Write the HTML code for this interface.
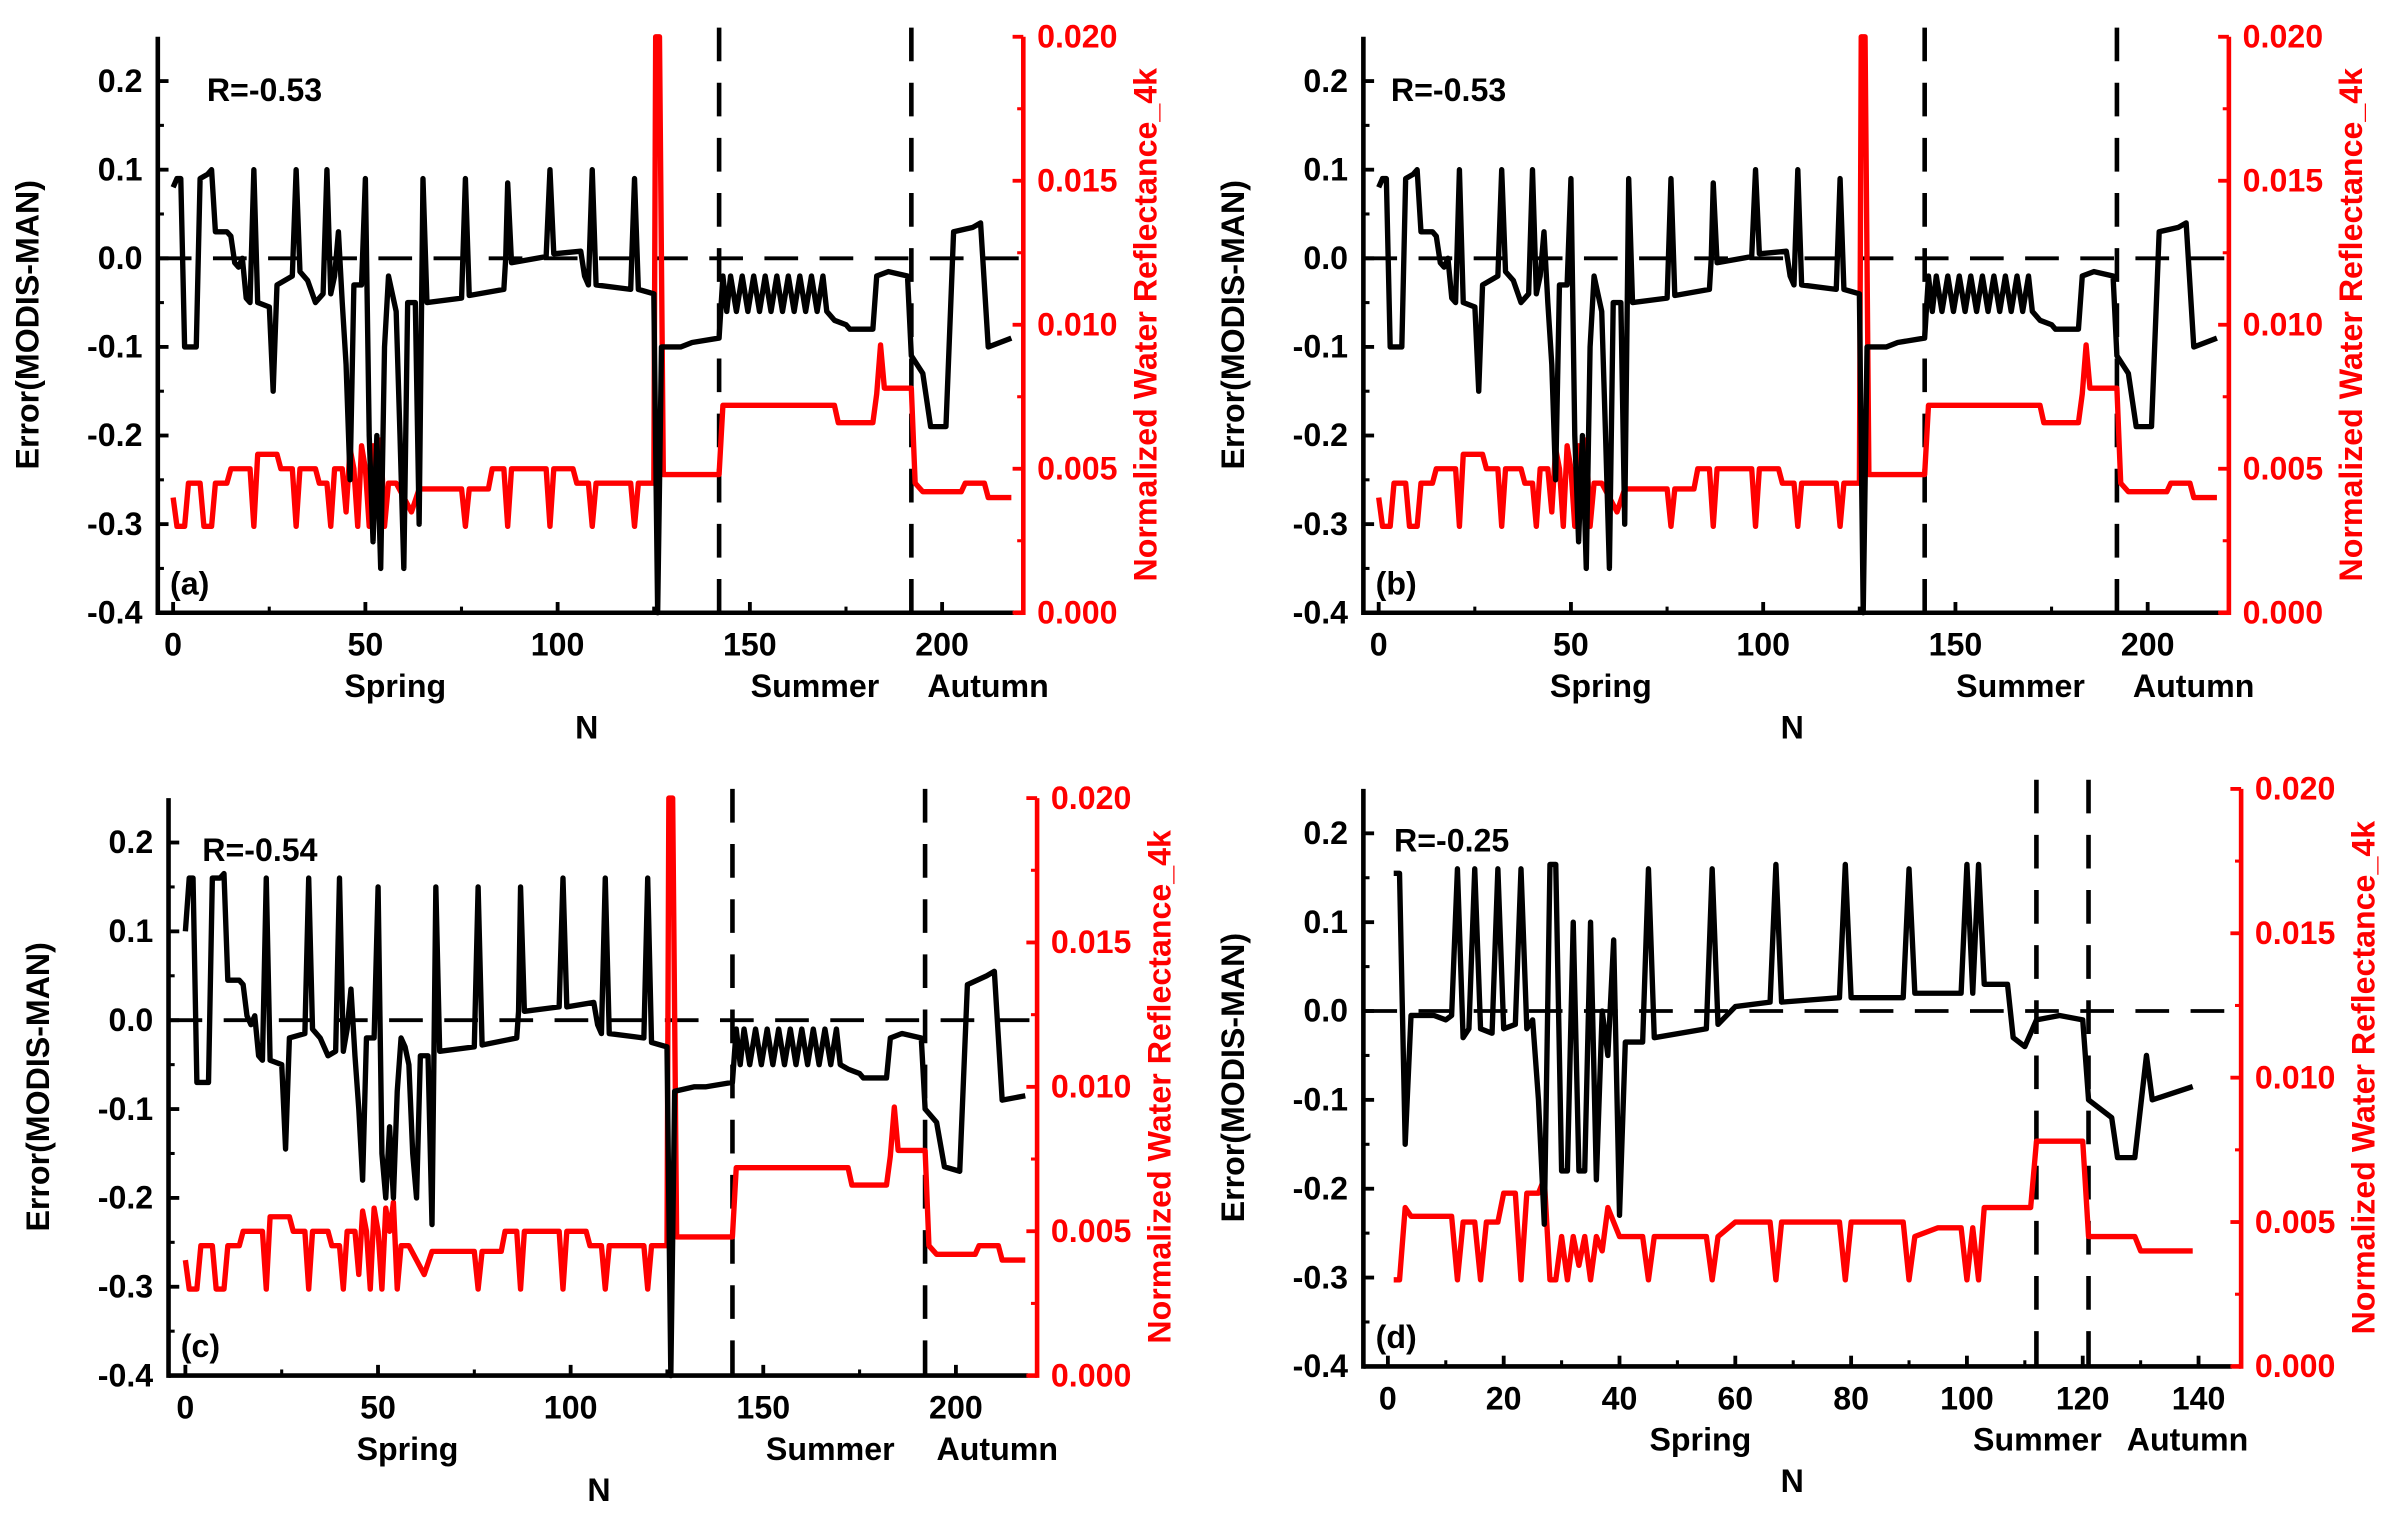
<!DOCTYPE html>
<html><head><meta charset="utf-8"><style>
html,body{margin:0;padding:0;background:#fff;}
svg{display:block;}
text{font-family:"Liberation Sans",sans-serif;font-weight:bold;}
</style></head><body>
<svg id="chart" width="2402" height="1515" viewBox="0 0 1568 989" xmlns="http://www.w3.org/2000/svg"></svg>
<script>
// ---------- data ----------
const errA = [[0,0.08],[1,0.09],[2,0.09],[3,-0.1],[6,-0.1],[7,0.09],[9,0.095],[10,0.1],[11,0.03],[14,0.03],[15,0.025],[16,-0.005],[17,-0.01],[18,0],[19,-0.045],[20,-0.05],[21,0.1],[22,-0.05],[25,-0.055],[26,-0.15],[27,-0.03],[31,-0.02],[32,0.1],[33,-0.015],[35,-0.025],[37,-0.05],[39,-0.04],[40,0.1],[41,-0.04],[42,-0.02],[43,0.03],[44,-0.05],[45,-0.12],[46,-0.25],[47,-0.03],[49,-0.03],[50,0.09],[51,-0.2],[52,-0.32],[53,-0.2],[54,-0.35],[55,-0.1],[56,-0.02],[57,-0.04],[58,-0.06],[59,-0.2],[60,-0.35],[61,-0.05],[63,-0.05],[64,-0.3],[65,0.09],[66,-0.05],[75,-0.045],[76,0.09],[77,-0.042],[86,-0.035],[86.5,0],[87,0.085],[88,-0.005],[97,0.002],[98,0.1],[99,0.005],[106,0.008],[107,-0.02],[108,-0.03],[109,0.1],[110,-0.03],[119,-0.035],[120,0.09],[121,-0.035],[125,-0.04],[126,-0.4],[127,-0.1],[132,-0.1],[135,-0.095],[142,-0.09],[143,-0.02],[144,-0.06],[145,-0.02],[146.5,-0.06],[148,-0.02],[149.5,-0.06],[151,-0.02],[152.5,-0.06],[154,-0.02],[155.5,-0.06],[157,-0.02],[158.5,-0.06],[160,-0.02],[161.5,-0.06],[163,-0.02],[164.5,-0.06],[166,-0.02],[167.5,-0.06],[169,-0.02],[170,-0.06],[172,-0.07],[175,-0.075],[176,-0.08],[182,-0.08],[183,-0.02],[186,-0.015],[191,-0.02],[192,-0.11],[195,-0.13],[197,-0.19],[201,-0.19],[203,0.03],[208,0.035],[210,0.04],[212,-0.1],[218,-0.09]];
const refA = [[0,0.004],[1,0.003],[3,0.003],[4,0.0045],[7,0.0045],[8,0.003],[10,0.003],[11,0.0045],[14,0.0045],[15,0.005],[20,0.005],[21,0.003],[22,0.0055],[27,0.0055],[28,0.005],[31,0.005],[32,0.003],[33,0.005],[37,0.005],[38,0.0045],[40,0.0045],[41,0.003],[42,0.005],[44,0.005],[45,0.0035],[46,0.0057],[47,0.005],[48,0.003],[49,0.0058],[50,0.005],[51,0.003],[52,0.0058],[53,0.005],[54,0.006],[55,0.003],[56,0.0045],[58,0.0045],[60,0.004],[62,0.0035],[64,0.0043],[75,0.0043],[76,0.003],[77,0.0043],[82,0.0043],[83,0.005],[86,0.005],[87,0.003],[88,0.005],[97,0.005],[98,0.003],[99,0.005],[104,0.005],[105,0.0045],[108,0.0045],[109,0.003],[110,0.0045],[119,0.0045],[120,0.003],[121,0.0045],[125,0.0045],[125.5,0.02],[126.5,0.02],[127.5,0.0048],[142,0.0048],[143,0.0072],[172,0.0072],[173,0.0066],[182,0.0066],[183,0.0076],[184,0.0093],[185,0.0078],[192,0.0078],[193,0.0045],[195,0.0042],[205,0.0042],[206,0.0045],[211,0.0045],[212,0.004],[218,0.004]];
const errC = [[0,0.1],[1,0.16],[2,0.16],[3,-0.07],[6,-0.07],[7,0.16],[9,0.16],[10,0.165],[11,0.045],[14,0.045],[15,0.04],[16,0.005],[17,-0.005],[18,0.005],[19,-0.04],[20,-0.045],[21,0.16],[22,-0.045],[25,-0.05],[26,-0.145],[27,-0.02],[31,-0.015],[32,0.16],[33,-0.01],[35,-0.02],[37,-0.04],[39,-0.035],[40,0.16],[41,-0.035],[42,-0.01],[43,0.035],[44,-0.04],[45,-0.1],[46,-0.18],[47,-0.02],[49,-0.02],[50,0.15],[51,-0.15],[52,-0.2],[53,-0.12],[54,-0.2],[55,-0.08],[56,-0.02],[57,-0.03],[58,-0.05],[59,-0.15],[60,-0.2],[61,-0.04],[63,-0.04],[64,-0.23],[65,0.15],[66,-0.035],[75,-0.03],[76,0.15],[77,-0.028],[86,-0.02],[86.5,0.01],[87,0.15],[88,0.01],[97,0.015],[98,0.16],[99,0.015],[106,0.02],[107,-0.005],[108,-0.015],[109,0.16],[110,-0.015],[119,-0.02],[120,0.16],[121,-0.025],[125,-0.03],[126,-0.4],[127,-0.08],[132,-0.075],[135,-0.075],[142,-0.07],[143,-0.01],[144,-0.05],[145,-0.01],[146.5,-0.05],[148,-0.01],[149.5,-0.05],[151,-0.01],[152.5,-0.05],[154,-0.01],[155.5,-0.05],[157,-0.01],[158.5,-0.05],[160,-0.01],[161.5,-0.05],[163,-0.01],[164.5,-0.05],[166,-0.01],[167.5,-0.05],[169,-0.01],[170,-0.05],[172,-0.055],[175,-0.06],[176,-0.065],[182,-0.065],[183,-0.02],[186,-0.015],[191,-0.02],[192,-0.1],[195,-0.115],[197,-0.165],[201,-0.17],[203,0.04],[208,0.05],[210,0.055],[212,-0.09],[218,-0.085]];
const refC = refA;
const errD = [[1,0.155],[2,0.155],[3,-0.15],[4,-0.005],[8,-0.005],[10,-0.01],[11,-0.005],[12,0.16],[13,-0.03],[14,-0.02],[15,0.16],[16,-0.02],[18,-0.025],[19,0.16],[20,-0.02],[22,-0.015],[23,0.16],[24,-0.02],[25,-0.01],[26,-0.1],[27,-0.24],[28,0.165],[29,0.165],[30,-0.18],[31,-0.18],[32,0.1],[33,-0.18],[34,-0.18],[35,0.1],[36,-0.19],[37,0],[38,-0.05],[39,0.08],[40,-0.23],[41,-0.035],[44,-0.035],[45,0.16],[46,-0.03],[55,-0.02],[56,0.16],[57,-0.015],[60,0.005],[66,0.01],[67,0.165],[68,0.01],[78,0.015],[79,0.165],[80,0.015],[89,0.015],[90,0.16],[91,0.02],[99,0.02],[100,0.165],[101,0.02],[102,0.165],[103,0.03],[107,0.03],[108,-0.03],[110,-0.04],[112,-0.01],[116,-0.005],[120,-0.01],[121,-0.1],[125,-0.12],[126,-0.165],[129,-0.165],[131,-0.05],[132,-0.1],[139,-0.085]];
const refD = [[1,0.003],[2,0.003],[3,0.0055],[4,0.0052],[11,0.0052],[12,0.003],[13,0.005],[15,0.005],[16,0.003],[17,0.005],[19,0.005],[20,0.006],[22,0.006],[23,0.003],[24,0.006],[26,0.006],[27,0.0065],[28,0.003],[29,0.003],[30,0.0045],[31,0.003],[32,0.0045],[33,0.0035],[34,0.0045],[35,0.003],[36,0.0045],[37,0.004],[38,0.0055],[39,0.005],[40,0.0045],[44,0.0045],[45,0.003],[46,0.0045],[55,0.0045],[56,0.003],[57,0.0045],[60,0.005],[66,0.005],[67,0.003],[68,0.005],[78,0.005],[79,0.003],[80,0.005],[89,0.005],[90,0.003],[91,0.0045],[95,0.0048],[99,0.0048],[100,0.003],[101,0.0048],[102,0.003],[103,0.0055],[111,0.0055],[112,0.0078],[120,0.0078],[121,0.0045],[129,0.0045],[130,0.004],[139,0.004]];
const leftTicks = [-0.4,-0.3,-0.2,-0.1,0.0,0.1,0.2];
const rightTicks = [0.000,0.005,0.010,0.015,0.020];
const xTicksABC = [0,50,100,150,200];
const xTicksD = [0,20,40,60,80,100,120,140];
const seasonsABC = [142,192];
const seasonsD = [112,121];

const panels = [
 {id:'a',L:103,Rx:668,T:24,B:400,x0:113,xs:2.51,err:errA,ref:refA,xt:xTicksABC,sea:seasonsABC,R:'R=-0.53',rx:135,ry:66,sp:[[258,'Spring'],[532,'Summer'],[645,'Autumn']],nx:383},
 {id:'b',L:890,Rx:1455,T:24,B:400,x0:900,xs:2.51,err:errA,ref:refA,xt:xTicksABC,sea:seasonsABC,R:'R=-0.53',rx:908,ry:66,sp:[[1045,'Spring'],[1319,'Summer'],[1432,'Autumn']],nx:1170},
 {id:'c',L:110,Rx:677,T:521,B:898,x0:121,xs:2.515,err:errC,ref:refC,xt:xTicksABC,sea:seasonsABC,R:'R=-0.54',rx:132,ry:562,sp:[[266,'Spring'],[542,'Summer'],[651,'Autumn']],nx:391},
 {id:'d',L:890,Rx:1463,T:515,B:892,x0:906,xs:3.78,err:errD,ref:refD,xt:xTicksD,sea:seasonsD,R:'R=-0.25',rx:910,ry:556,sp:[[1110,'Spring'],[1330,'Summer'],[1428,'Autumn']],nx:1170}
];
const svg = document.getElementById('chart');
const NS='http://www.w3.org/2000/svg';
const FS=21;
function mk(tag,attrs,parent){const e=document.createElementNS(NS,tag);for(const k in attrs)e.setAttribute(k,attrs[k]);(parent||svg).appendChild(e);return e;}
panels.forEach(p=>{
 const g=mk('g',{});
 
 
 const X=n=>p.x0+n*p.xs;
 const Y=v=>p.B-(v+0.4)/0.65*(p.B-p.T);
 const Yr=r=>p.B-r/0.02*(p.B-p.T);
 const z=mk('line',{x1:p.L,x2:p.Rx,y1:Y(0),y2:Y(0),stroke:'#000','stroke-width':2.5,'stroke-dasharray':'22,14'},g);
 
 
 p.sea.forEach(s=>{const l=mk('line',{x1:X(s),x2:X(s),y1:p.T-6,y2:p.B,stroke:'#000','stroke-width':3,'stroke-dasharray':'22,14'},g);
  
  });
 const rp=mk('polyline',{points:p.ref.map(d=>X(d[0]).toFixed(1)+','+Yr(d[1]).toFixed(1)).join(' '),fill:'none',stroke:'#ff0000','stroke-width':3.5,'stroke-linejoin':'round'},g);
 
 
 const bp=mk('polyline',{points:p.err.map(d=>X(d[0]).toFixed(1)+','+Y(d[1]).toFixed(1)).join(' '),fill:'none',stroke:'#000','stroke-width':3.5,'stroke-linejoin':'round'},g);
 
 
 const la=mk('line',{x1:p.L,x2:p.L,y1:p.T,y2:p.B+1.5,stroke:'#000','stroke-width':3},g);
 
 
 const ba=mk('line',{x1:p.L,x2:p.Rx-6,y1:p.B,y2:p.B,stroke:'#000','stroke-width':3},g);
 
 
 mk('line',{x1:p.Rx-6,x2:p.Rx,y1:p.B,y2:p.B,stroke:'#f00','stroke-width':3},g);
 const ra=mk('line',{x1:p.Rx,x2:p.Rx,y1:p.T,y2:p.B+1.5,stroke:'#f00','stroke-width':3},g);
 
 
 leftTicks.forEach(v=>{mk('line',{x1:p.L,x2:p.L+7,y1:Y(v),y2:Y(v),stroke:'#000','stroke-width':2.5},g);
  if(v<0.2)mk('line',{x1:p.L,x2:p.L+4,y1:Y(v+0.05),y2:Y(v+0.05),stroke:'#000','stroke-width':2},g);
  const t=mk('text',{x:p.L-10,y:Y(v)+7,'text-anchor':'end','font-size':FS},g);t.textContent=v.toFixed(1);
  
  });
 rightTicks.forEach(r=>{mk('line',{x1:p.Rx,x2:p.Rx-7,y1:Yr(r),y2:Yr(r),stroke:'#f00','stroke-width':2.5},g);
  if(r<0.02)mk('line',{x1:p.Rx,x2:p.Rx-4,y1:Yr(r+0.0025),y2:Yr(r+0.0025),stroke:'#f00','stroke-width':2},g);
  const t=mk('text',{x:p.Rx+9,y:Yr(r)+7,'font-size':FS,fill:'#f00'},g);t.textContent=r.toFixed(3);
  
  });
 p.xt.forEach((n,i)=>{mk('line',{x1:X(n),x2:X(n),y1:p.B,y2:p.B-7,stroke:'#000','stroke-width':2.5},g);
  if(i<p.xt.length-1)mk('line',{x1:X(n+(p.xt[1]-p.xt[0])/2),x2:X(n+(p.xt[1]-p.xt[0])/2),y1:p.B,y2:p.B-4,stroke:'#000','stroke-width':2},g);
  const t=mk('text',{x:X(n),y:p.B+28,'text-anchor':'middle','font-size':FS},g);t.textContent=n;
  
  });
 p.sp.forEach(s=>{const t=mk('text',{x:s[0],y:p.B+55,'text-anchor':'middle','font-size':FS},g);t.textContent=s[1];
  
  });
 const nt=mk('text',{x:p.nx,y:p.B+82,'text-anchor':'middle','font-size':FS},g);nt.textContent='N';
 
 
 const mid=(p.T+p.B)/2;
 const yl=mk('text',{x:p.L-78,y:mid,'text-anchor':'middle','font-size':FS,transform:`rotate(-90 ${p.L-78} ${mid})`},g);yl.textContent='Error(MODIS-MAN)';
 
 
 const yr=mk('text',{x:p.Rx+87,y:mid,'text-anchor':'middle','font-size':FS,fill:'#f00',transform:`rotate(-90 ${p.Rx+87} ${mid})`},g);yr.textContent='Normalized Water Reflectance_4k';
 
 
 const rt=mk('text',{x:p.rx,y:p.ry,'font-size':FS},g);rt.textContent=p.R;
 
 
 const pl=mk('text',{x:p.L+8,y:p.B-12,'font-size':FS},g);pl.textContent='('+p.id+')';
 
 
});
</script>
</body></html>
